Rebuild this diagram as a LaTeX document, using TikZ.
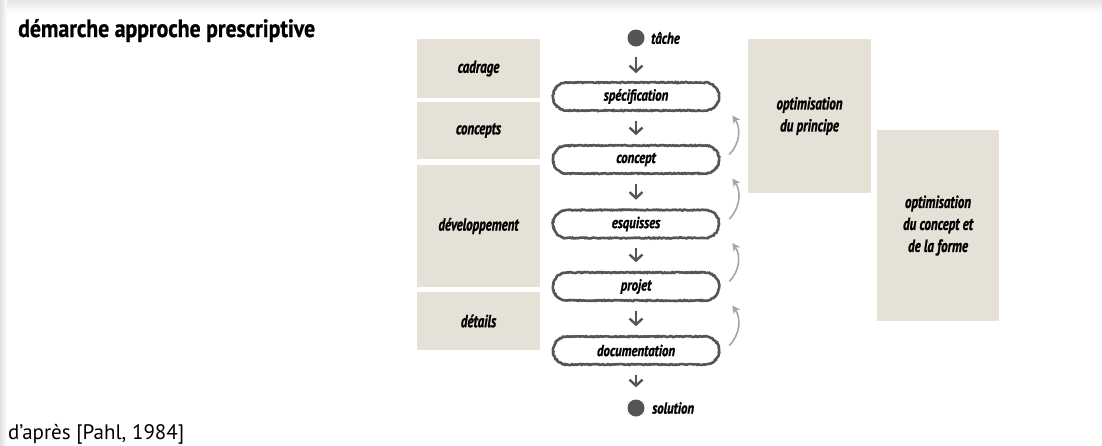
\documentclass[tikz,border=0pt]{standalone}
\usepackage{fontspec}
\setmainfont{PT Sans}
\newfontfamily\condf[FakeStretch=0.74,FakeBold=1.2]{PT Sans}
\newfontfamily\stagef[FakeStretch=0.8,FakeBold=1.2]{PT Sans}
\newfontfamily\titlef[FakeStretch=0.87,FakeBold=0.8]{PT Sans}
\usetikzlibrary{arrows.meta,shapes.misc,decorations.pathmorphing}
\definecolor{beige}{RGB}{229,225,214}
\definecolor{darkg}{RGB}{85,85,87}
\definecolor{lightarr}{RGB}{165,165,165}
\pgfmathsetseed{7}
\begin{document}
\begin{tikzpicture}[x=1pt,y=-1pt,
  phase/.style={fill=beige, inner sep=0pt, align=center,
    font=\condf\bfseries\itshape\fontsize{17.5}{22}\selectfont},
  stage/.style={rounded rectangle, draw=darkg, line width=2.6pt,
    minimum width=166pt, minimum height=28pt, inner sep=0pt,
    font=\stagef\bfseries\itshape\fontsize{16}{18}\selectfont,
    decorate, decoration={random steps,segment length=1.2pt,amplitude=0.5pt}},
  dot/.style={circle, fill=darkg, minimum size=17pt, inner sep=0pt},
  dotlabel/.style={anchor=west, inner sep=0pt,
    font=\stagef\bfseries\itshape\fontsize{16}{18}\selectfont},
  down/.style={-{Straight Barb[length=6pt,width=13pt,line width=2.4pt]}, darkg, line width=2.4pt},
  back/.style={-{Stealth[length=8pt,width=8pt]}, lightarr, line width=1.6pt}]

\useasboundingbox (0,0) rectangle (1102,445);
\shade[top color=gray!20, bottom color=white] (0,0) rectangle (1102,13);
\shade[left color=gray!25, right color=white] (0,0) rectangle (7,445);
\fill[white] (7,13) rectangle (1102,445);

\node[anchor=base west, inner sep=0pt, font=\titlef\bfseries\fontsize{25}{28}\selectfont] (title) at (18,37) {démarche approche prescriptive};
\node[anchor=base west, inner sep=0pt, font=\fontsize{21}{24}\selectfont] (src) at (8,439) {d’après [Pahl, 1984]};

% left phase boxes
\node[phase, minimum width=123pt, minimum height=59pt] (cad) at (478.5,68.5) {cadrage};
\node[phase, minimum width=123pt, minimum height=57pt] (con) at (478.5,130.5) {concepts};
\node[phase, minimum width=123pt, minimum height=122pt] (dev) at (478.5,226) {développement};
\node[phase, minimum width=123pt, minimum height=58pt] (det) at (478.5,321) {détails};

% right boxes
\node[phase, minimum width=123pt, minimum height=154pt] (opp) at (809.5,116) {optimisation\\du principe};
\node[phase, minimum width=122pt, minimum height=191pt] (opf) at (938,225.5) {optimisation\\du concept et\\de la forme};

% central flow
\node[dot] (start) at (636,38) {};
\node[dotlabel] (startl) at (651,38) {tâche};
\node[stage] (s1) at (636,96.5) {spécification};
\node[stage] (s2) at (636,159.5) {concept};
\node[stage] (s3) at (636,224) {esquisses};
\node[stage] (s4) at (636,286.5) {projet};
\node[stage] (s5) at (636,350.5) {documentation};
\node[dot] (end) at (636,408) {};
\node[dotlabel] (endl) at (652,408) {solution};

\draw[down] ([yshift=-10pt]start.south) -- ([yshift=8pt]s1.north);
\foreach \a/\b in {s1/s2,s2/s3,s3/s4,s4/s5}
  \draw[down] ([yshift=-9pt]\a.south) -- ([yshift=9pt]\b.north);
\draw[down] ([yshift=-9pt]s5.south) -- ([yshift=12pt]end.north);

\foreach \a/\b in {s2/s1,s3/s2,s4/s3,s5/s4}
  \draw[back] ([shift={(9pt,5pt)}]\a.east) to[bend right=40] ([shift={(12pt,-19pt)}]\b.east);
\end{tikzpicture}
\end{document}
